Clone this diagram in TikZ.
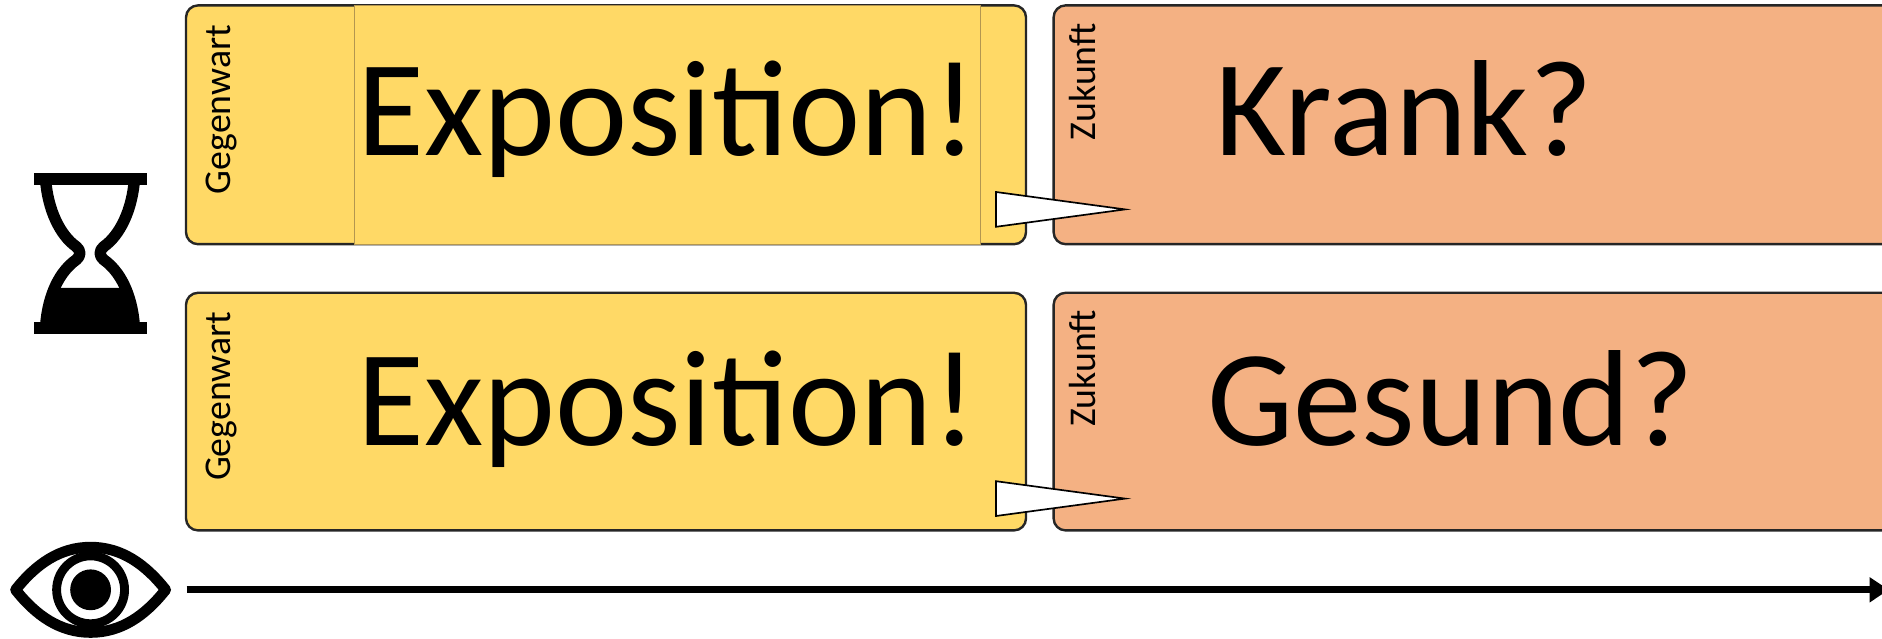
\documentclass[tikz,border=0pt]{standalone}
\usepackage{fontspec}
\setmainfont{Carlito}
\usetikzlibrary{arrows.meta}
\definecolor{boxyellow}{HTML}{FFD966}
\definecolor{boxorange}{HTML}{F4B183}
\definecolor{boxline}{HTML}{262626}
\definecolor{innerline}{HTML}{B39650}
\begin{document}
\begin{tikzpicture}[x=1pt,y=-1pt,
  ybox/.style={draw=boxline, fill=boxyellow, line width=2pt, rounded corners=10pt, inner sep=0pt, minimum width=700pt},
  obox/.style={draw=boxline, fill=boxorange, line width=2pt, rounded corners=10pt, inner sep=0pt, minimum width=722pt},
  innerbox/.style={draw=innerline, fill=boxyellow, line width=0.8pt, inner sep=0pt, minimum width=522pt, minimum height=199pt},
  vlabel/.style={rotate=90, inner sep=0pt, font=\fontsize{31.5}{36}\selectfont},
  bigtext/.style={inner sep=0pt, anchor=base, font=\fontsize{114}{120}\selectfont},
  pointer/.style={fill=white, draw=black, line width=1.4pt, line join=miter},
  timeline/.style={line width=6pt, -{Triangle[length=16pt,width=20pt]}},
  iconline/.style={line width=9.5pt, line join=round, line cap=butt}
]
\useasboundingbox (0,0) rectangle (1568.33,531.67);
\clip (0,0) rectangle (1568.33,531.67);

% top row
\node[ybox, minimum height=199pt] (now1) at (505,104) {};
\node[obox, minimum height=199pt] (fut1) at (1239,104) {};
\node[innerbox] (expobox1) at (556,104) {};
\node[vlabel, anchor=base west] (gw1) at (192,162) {Gegenwart};
\node[vlabel, anchor=base west] (zk1) at (913,117) {Zukunft};
\node[bigtext] (ex1) at (556,130) {Exposition!};
\node[bigtext] (kr) at (1170,130) {Krank?};
\draw[pointer] (830,160) -- (937.5,174.5) -- (830,189) -- cycle;

% bottom row
\node[ybox, minimum height=198pt] (now2) at (505,343) {};
\node[obox, minimum height=198pt] (fut2) at (1239,343) {};
\node[vlabel, anchor=base west] (gw2) at (192,401) {Gegenwart};
\node[vlabel, anchor=base west] (zk2) at (913,356) {Zukunft};
\node[bigtext] (ex2) at (556,371) {Exposition!};
\node[bigtext] (gs) at (1209,371) {Gesund?};
\draw[pointer] (830,401) -- (937.5,415.5) -- (830,430) -- cycle;

% hourglass
\fill (46,240) -- (41,251) -- (38.5,270) -- (111.5,270) -- (109,251) -- (104,240) -- cycle;
\draw[iconline] (38,150) .. controls (40,175) and (50,196) .. (63.5,205.5)
   .. controls (67.5,208.5) and (67.5,213.5) .. (63.5,216.5)
   .. controls (50,226) and (40,245) .. (38,272);
\draw[iconline] (112,150) .. controls (110,175) and (100,196) .. (86.5,205.5)
   .. controls (82.5,208.5) and (82.5,213.5) .. (86.5,216.5)
   .. controls (100,226) and (110,245) .. (112,272);
\fill (28.6,144) rectangle (122.5,154.5);
\fill (28.6,268) rectangle (122.5,278.5);

% eye
\draw[iconline, line width=9pt] (13,491.5) .. controls (30,470) and (50,456) .. (75.5,456)
   .. controls (101,456) and (121,470) .. (138,491.5)
   .. controls (121,513) and (101,527) .. (75.5,527)
   .. controls (50,527) and (30,513) .. (13,491.5) -- cycle;
\draw[line width=7.4pt] (75.5,491.5) circle[radius=28.3];
\fill (75.5,491.5) circle[radius=17];

% time axis
\coordinate (tstart) at (155.5,491.5);
\coordinate (tend) at (1574,491.5);
\draw[timeline] (tstart) -- (tend);
\end{tikzpicture}
\end{document}
